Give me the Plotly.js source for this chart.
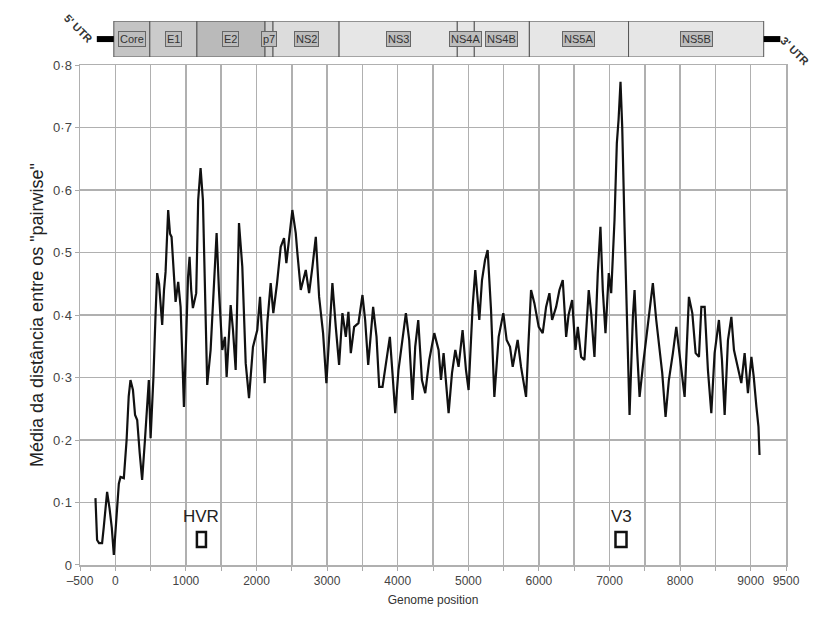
<!DOCTYPE html>
<html><head><meta charset="utf-8">
<script src="https://cdn.plot.ly/plotly-3.0.1.min.js"></script>
<style>body{margin:0;background:#fff}#c{width:814px;height:617px}</style>
</head><body><div id="c"></div>
<script>
// Genome position and mean pairwise distance
const positions = [-281,-258,-230,-187,-163,-116,-82,-50,-21,20,50,74,121,160,190,215,250,280,310,345,380,420,450,475,500,540,570,593,620,664,690,712,749,775,797,825,854,891,925,950,972,1004,1030,1052,1075,1099,1146,1174,1208,1241,1270,1302,1350,1397,1435,1468,1515,1553,1577,1634,1667,1705,1752,1799,1847,1894,1950,2011,2050,2116,2153,2201,2238,2290,2343,2390,2423,2508,2556,2579,2627,2698,2745,2792,2840,2887,2943,2990,3040,3075,3123,3170,3217,3265,3302,3336,3383,3444,3501,3539,3582,3652,3700,3738,3785,3841,3889,3926,3965,4011,4068,4116,4163,4210,4248,4291,4343,4390,4447,4518,4579,4613,4650,4721,4769,4816,4862,4919,4967,5004,5061,5099,5156,5194,5237,5274,5322,5369,5430,5496,5543,5591,5629,5699,5747,5818,5850,5889,5936,5997,6054,6102,6149,6187,6244,6291,6338,6386,6420,6471,6518,6551,6598,6645,6706,6740,6787,6834,6872,6905,6943,6990,7024,7071,7104,7128,7156,7180,7213,7246,7284,7331,7355,7393,7426,7472,7529,7567,7614,7662,7709,7747,7794,7841,7898,7946,8002,8064,8125,8173,8220,8267,8301,8348,8394,8442,8489,8550,8593,8631,8678,8726,8763,8820,8867,8914,8961,9010,9043,9081,9110,9125];
const distance = [0.107,0.040,0.035,0.035,0.061,0.117,0.091,0.06,0.016,0.08,0.13,0.141,0.139,0.2,0.27,0.296,0.28,0.24,0.232,0.18,0.136,0.2,0.25,0.296,0.203,0.3,0.4,0.467,0.45,0.384,0.44,0.469,0.568,0.53,0.525,0.47,0.421,0.453,0.413,0.33,0.253,0.365,0.46,0.493,0.44,0.411,0.435,0.584,0.635,0.584,0.42,0.288,0.344,0.451,0.531,0.44,0.344,0.365,0.301,0.416,0.376,0.312,0.547,0.477,0.323,0.267,0.349,0.376,0.429,0.291,0.387,0.451,0.403,0.45,0.509,0.523,0.483,0.568,0.531,0.499,0.44,0.472,0.435,0.477,0.525,0.429,0.371,0.291,0.38,0.451,0.381,0.32,0.403,0.365,0.405,0.339,0.381,0.387,0.432,0.392,0.32,0.413,0.365,0.285,0.285,0.333,0.365,0.307,0.243,0.312,0.36,0.403,0.36,0.264,0.349,0.392,0.296,0.275,0.328,0.371,0.344,0.296,0.339,0.243,0.307,0.344,0.317,0.376,0.312,0.28,0.413,0.472,0.392,0.456,0.488,0.504,0.408,0.269,0.365,0.403,0.36,0.349,0.317,0.36,0.317,0.269,0.35,0.44,0.419,0.381,0.371,0.413,0.435,0.392,0.413,0.44,0.456,0.365,0.4,0.424,0.344,0.381,0.333,0.328,0.44,0.403,0.333,0.467,0.541,0.44,0.371,0.467,0.435,0.552,0.675,0.712,0.773,0.701,0.541,0.381,0.24,0.397,0.44,0.339,0.269,0.317,0.371,0.403,0.451,0.392,0.344,0.307,0.237,0.296,0.339,0.381,0.328,0.269,0.429,0.403,0.339,0.333,0.413,0.413,0.312,0.243,0.339,0.392,0.328,0.24,0.36,0.397,0.344,0.317,0.291,0.339,0.275,0.333,0.301,0.253,0.221,0.176];

// Genome map
const genes = ["Core","E1","E2","p7","NS2","NS3","NS4A","NS4B","NS5A","NS5B"];
const geneStart = [-21,489,1156,2121,2234,3170,4844,5085,5865,7270];
const geneEnd   = [489,1156,2121,2234,3170,4844,5085,5865,7270,9184];
const geneColors = ["#c4c4c4","#cbcbcb","#bababa","#d2d2d2","#dcdcdc","#e6e6e6","#e6e6e6","#e6e6e6","#e6e6e6","#e6e6e6"];
const utr5 = [-262,-21];
const utr3 = [9184,9420];

// Variable regions
const regions = ["HVR","V3"];
const regionStart = [1156,7085];
const regionEnd = [1284,7241];
const regionLow = [0.029,0.029];
const regionHigh = [0.053,0.053];

// Axis ticks
const xTickVals = [-500,0,500,1000,1500,2000,2500,3000,3500,4000,4500,5000,5500,6000,6500,7000,7500,8000,8500,9000,9500];
const xTickText = ["\u2013500","0","","1000","","2000","","3000","","4000","","5000","","6000","","7000","","8000","","9000","9500"];
const yTickVals = [0,0.1,0.2,0.3,0.4,0.5,0.6,0.7,0.8];
const yTickText = ["0","0\u00b71","0\u00b72","0\u00b73","0\u00b74","0\u00b75","0\u00b76","0\u00b77","0\u00b78"];

const traces = [
  {x: positions, y: distance, type:'scatter', mode:'lines', line:{color:'#111', width:2.2}, xaxis:'x', yaxis:'y', hoverinfo:'skip'},
  {x: geneEnd.map((e,i)=>e-geneStart[i]), base: geneStart, y: genes.map(()=>0), type:'bar', orientation:'h', width:1,
   marker:{color: geneColors, line:{color:'#555', width:1}}, xaxis:'x2', yaxis:'y2', hoverinfo:'skip'},
  {x: utr5, y:[0,0], type:'scatter', mode:'lines', line:{color:'#000', width:6}, xaxis:'x2', yaxis:'y2', hoverinfo:'skip'},
  {x: utr3, y:[0,0], type:'scatter', mode:'lines', line:{color:'#000', width:6}, xaxis:'x2', yaxis:'y2', hoverinfo:'skip'}
];

const shapes = regions.map((r,i)=>({type:'rect', xref:'x', yref:'y', x0: regionStart[i], x1: regionEnd[i], y0: regionLow[i], y1: regionHigh[i],
  line:{color:'#111', width:2.5}, fillcolor:'rgba(0,0,0,0)'}));

const annotations = [];
genes.forEach((g,i)=>{
  annotations.push({xref:'x2', yref:'y2', x:(geneStart[i]+geneEnd[i])/2, y:0, text:g, showarrow:false,
    font:{family:'Liberation Sans, Arial', size:11, color:'#333'}, bgcolor:'#bdbdbd', bordercolor:'#666', borderwidth:1, borderpad:1});
});
regions.forEach((r,i)=>{
  annotations.push({xref:'x', yref:'y', x:(regionStart[i]+regionEnd[i])/2, y: regionHigh[i]+0.006, yanchor:'bottom', text:r, showarrow:false,
    font:{family:'Liberation Sans, Arial', size:17, color:'#222'}});
});
annotations.push({xref:'paper', yref:'paper', x:-0.003, y:0.985, xanchor:'center', yanchor:'middle', text:"<b>5' UTR</b>", textangle:45, showarrow:false,
  font:{family:'Liberation Sans, Arial', size:11, color:'#333'}});
annotations.push({xref:'paper', yref:'paper', x:1.013, y:0.944, xanchor:'center', yanchor:'middle', text:"<b>3' UTR</b>", textangle:45, showarrow:false,
  font:{family:'Liberation Sans, Arial', size:11, color:'#333'}});

const layout = {
  width:814, height:617,
  margin:{l:80, r:28, t:20, b:52},
  paper_bgcolor:'#fff', plot_bgcolor:'#fff',
  showlegend:false,
  font:{family:'Liberation Sans, Arial, sans-serif'},
  xaxis:{range:[-500,9500], domain:[0,1], anchor:'y', tickvals:xTickVals, ticktext:xTickText,
    showgrid:true, gridcolor:'#b0b0b0', gridwidth:1.5, zeroline:false,
    showline:true, linecolor:'#b0b0b0', linewidth:1.5, mirror:true,
    ticks:'outside', ticklen:4, tickcolor:'#aaa',
    tickfont:{size:12, color:'#444'},
    title:{text:'Genome position', font:{size:12, color:'#333'}, standoff:8}},
  yaxis:{range:[0,0.8], domain:[0,0.9174], anchor:'x', tickvals:yTickVals, ticktext:yTickText,
    showgrid:true, gridcolor:'#b0b0b0', gridwidth:1.5, zeroline:false,
    showline:true, linecolor:'#b0b0b0', linewidth:1.5, mirror:true,
    ticks:'outside', ticklen:4, tickcolor:'#aaa',
    tickfont:{size:13, color:'#444'},
    title:{text:'Média da distância entre os "pairwise"', font:{size:18, color:'#222'}, standoff:5}},
  xaxis2:{range:[-500,9500], domain:[0,1], anchor:'y2', visible:false},
  yaxis2:{range:[-0.5,0.5], domain:[0.932,0.998], anchor:'x2', visible:false},
  shapes: shapes,
  annotations: annotations
};
Plotly.newPlot('c', traces, layout, {displayModeBar:false, staticPlot:true});
</script>
</body></html>
